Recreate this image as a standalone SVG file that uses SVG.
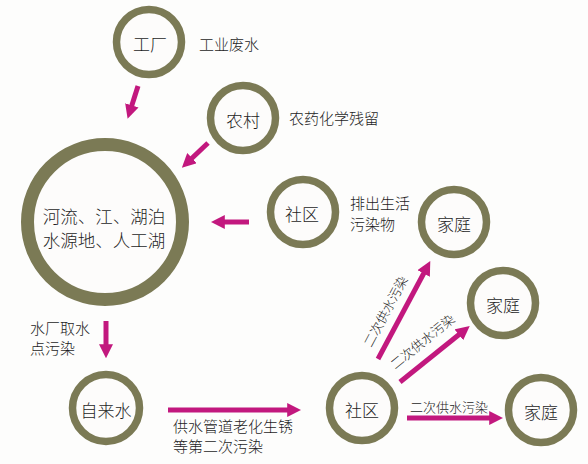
<svg xmlns="http://www.w3.org/2000/svg" width="588" height="464" viewBox="0 0 588 464">
<defs>
<style>
.n{fill:#fdfcfb;stroke:#7b7a55;stroke-width:7.5}
.big{fill:#fdfcfb;stroke:#7b7a55;stroke-width:13}
.t{font-family:"Noto Sans CJK SC","Noto Sans",sans-serif;font-weight:300;fill:#1e1e1e;text-anchor:middle;dominant-baseline:central}
.nt{font-size:17px}
.lt{font-size:15px;text-anchor:start}
.c{stroke:#c2187e;stroke-width:5;fill:none;marker-end:url(#ah)}
</style>
<marker id="ah" viewBox="0 0 10 10" refX="2" refY="5" markerWidth="14" markerHeight="14" markerUnits="userSpaceOnUse" orient="auto">
<path d="M0,0 L10,5 L0,10 Z" fill="#c2187e"/>
</marker>
</defs>
<rect width="588" height="464" fill="#fdfdfc"/>
<g id="connectors">
<line class="c" x1="138" y1="86" x2="131" y2="108"/>
<line class="c" x1="208" y1="143" x2="190" y2="160"/>
<line class="c" x1="249" y1="222" x2="222" y2="222"/>
<line class="c" x1="106" y1="321" x2="106" y2="347"/>
<line class="c" x1="168" y1="410" x2="290" y2="410"/>
<line class="c" x1="378" y1="359" x2="425" y2="271"/>
<line class="c" x1="400" y1="382" x2="461" y2="333"/>
<line class="c" x1="407" y1="418" x2="492" y2="418"/>
</g>
<g id="river">
<circle class="big" cx="105" cy="222" r="77.5"/>
<text class="t" x="104" y="215" font-size="17.5">河流、江、湖泊</text>
<text class="t" x="104" y="239" font-size="17.5">水源地、人工湖</text>
</g>
<g id="factory">
<circle class="n" cx="149" cy="42" r="32.5"/>
<text class="t nt" x="150" y="43">工厂</text>
<text class="t lt" x="199" y="43">工业废水</text>
</g>
<g id="village">
<circle class="n" cx="243" cy="118" r="32.5"/>
<text class="t nt" x="243" y="119">农村</text>
<text class="t lt" x="289" y="117">农药化学残留</text>
</g>
<g id="community-top">
<circle class="n" cx="303" cy="212" r="32.5"/>
<text class="t nt" x="302" y="213">社区</text>
<text class="t lt" x="350" y="202">排出生活</text>
<text class="t lt" x="350" y="223">污染物</text>
</g>
<g id="home1">
<circle class="n" cx="454" cy="222" r="32.5"/>
<text class="t nt" x="454" y="223">家庭</text>
</g>
<g id="home2">
<circle class="n" cx="503" cy="303" r="32.5"/>
<text class="t nt" x="503" y="304">家庭</text>
</g>
<g id="home3">
<circle class="n" cx="541" cy="410" r="32.5"/>
<text class="t nt" x="541" y="411">家庭</text>
</g>
<g id="tapwater">
<circle class="n" cx="106" cy="408" r="33.5"/>
<text class="t nt" x="106" y="409">自来水</text>
<text class="t lt" x="30" y="327">水厂取水</text>
<text class="t lt" x="30" y="347">点污染</text>
<text class="t lt" x="173" y="425">供水管道老化生锈</text>
<text class="t lt" x="173" y="445">等第二次污染</text>
</g>
<g id="community-bottom">
<circle class="n" cx="362" cy="408" r="32.5"/>
<text class="t nt" x="362" y="409">社区</text>
<text class="t" x="385" y="311" font-size="13" transform="rotate(-62 385 311)">二次供水污染</text>
<text class="t" x="422" y="341" font-size="13" transform="rotate(-39 422 341)">二次供水污染</text>
<text class="t" x="449" y="406" font-size="13">二次供水污染</text>
</g>
</svg>
